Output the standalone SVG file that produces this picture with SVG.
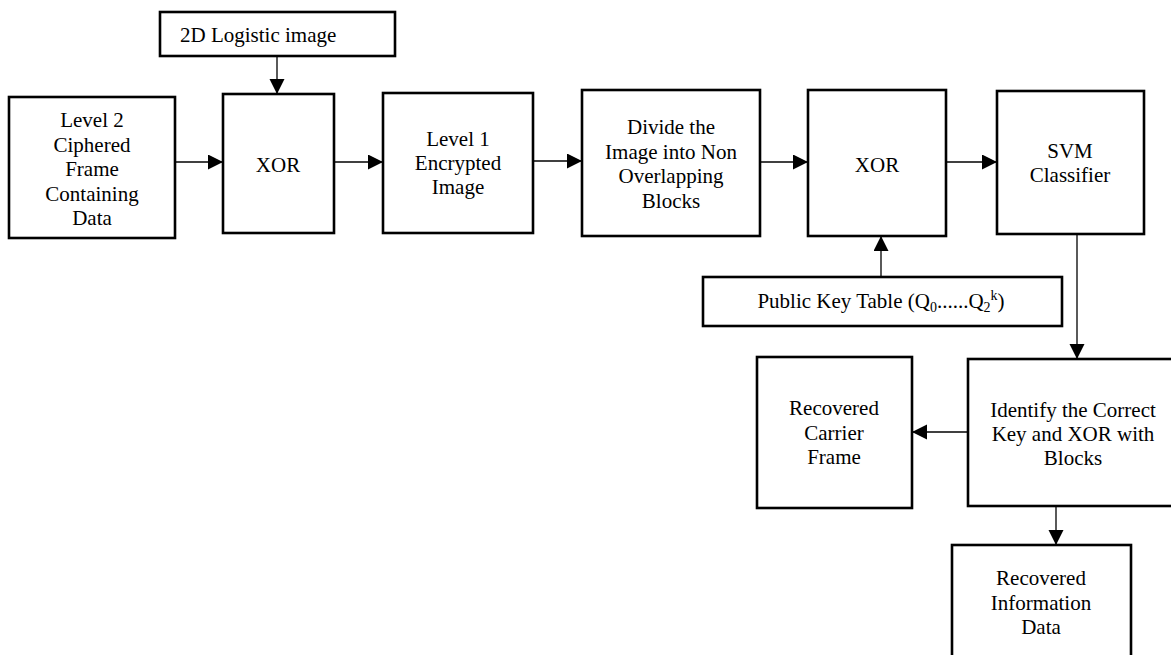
<svg xmlns="http://www.w3.org/2000/svg" width="1171" height="655" viewBox="0 0 1171 655">
<style>
.box{fill:#fff;stroke:#000;stroke-width:2.6}
.t{font-family:"Liberation Serif","Times New Roman",serif;font-size:21px;fill:#000;text-anchor:middle}
.ln{stroke:#000;stroke-width:1.3;fill:none;marker-end:url(#ah)}
</style>
<defs>
<marker id="ah" markerUnits="userSpaceOnUse" markerWidth="16" markerHeight="16" refX="15" refY="7.5" orient="auto">
<path d="M0,0 L15,7.5 L0,15 Z" fill="#000"/>
</marker>
</defs>
<rect width="1171" height="655" fill="#fff"/>
<g id="connectors">
<line class="ln" x1="277" y1="56" x2="277" y2="94"/>
<line class="ln" x1="175" y1="162" x2="223" y2="162"/>
<line class="ln" x1="334" y1="162" x2="383" y2="162"/>
<line class="ln" x1="533" y1="161" x2="582" y2="161"/>
<line class="ln" x1="760" y1="162" x2="808" y2="162"/>
<line class="ln" x1="946" y1="162" x2="997" y2="162"/>
<line class="ln" x1="881" y1="277" x2="881" y2="236"/>
<line class="ln" x1="1077" y1="234" x2="1077" y2="359"/>
<line class="ln" x1="968" y1="432" x2="912" y2="432"/>
<line class="ln" x1="1056" y1="506" x2="1056" y2="545"/>
</g>
<g id="logistic">
<rect class="box" x="160" y="12" width="235" height="44"/>
<text class="t" x="180" y="42" style="text-anchor:start">2D Logistic image</text>
</g>
<g id="level2">
<rect class="box" x="9" y="97" width="166" height="141"/>
<text class="t" x="92" y="127">Level 2</text>
<text class="t" x="92" y="151.5">Ciphered</text>
<text class="t" x="92" y="176">Frame</text>
<text class="t" x="92" y="200.5">Containing</text>
<text class="t" x="92" y="225">Data</text>
</g>
<g id="xor1">
<rect class="box" x="223" y="94" width="111" height="139"/>
<text class="t" x="278" y="172">XOR</text>
</g>
<g id="level1">
<rect class="box" x="383" y="93" width="150" height="140"/>
<text class="t" x="458" y="146">Level 1</text>
<text class="t" x="458" y="170">Encrypted</text>
<text class="t" x="458" y="194">Image</text>
</g>
<g id="divide">
<rect class="box" x="582" y="90" width="178" height="146"/>
<text class="t" x="671" y="134">Divide the</text>
<text class="t" x="671" y="158.5">Image into Non</text>
<text class="t" x="671" y="183">Overlapping</text>
<text class="t" x="671" y="207.5">Blocks</text>
</g>
<g id="xor2">
<rect class="box" x="808" y="90" width="138" height="146"/>
<text class="t" x="877" y="172">XOR</text>
</g>
<g id="svm">
<rect class="box" x="997" y="91" width="147" height="143"/>
<text class="t" x="1070" y="158">SVM</text>
<text class="t" x="1070" y="182">Classifier</text>
</g>
<g id="pubkey">
<rect class="box" x="703" y="277" width="359" height="49"/>
<text class="t" x="881" y="308">Public Key Table (Q<tspan font-size="14" dy="4">0</tspan><tspan dy="-4">......Q</tspan><tspan font-size="14" dy="4">2</tspan><tspan font-size="14" dy="-12">k</tspan><tspan dy="8">)</tspan></text>
</g>
<g id="identify">
<rect class="box" x="968" y="359" width="210" height="147"/>
<text class="t" x="1073" y="417">Identify the Correct</text>
<text class="t" x="1073" y="440.5">Key and XOR with</text>
<text class="t" x="1073" y="465">Blocks</text>
</g>
<g id="carrier">
<rect class="box" x="757" y="357" width="155" height="151"/>
<text class="t" x="834" y="415">Recovered</text>
<text class="t" x="834" y="439.5">Carrier</text>
<text class="t" x="834" y="464">Frame</text>
</g>
<g id="info">
<rect class="box" x="952" y="545" width="179" height="120"/>
<text class="t" x="1041" y="585">Recovered</text>
<text class="t" x="1041" y="609.5">Information</text>
<text class="t" x="1041" y="634">Data</text>
</g>
</svg>
